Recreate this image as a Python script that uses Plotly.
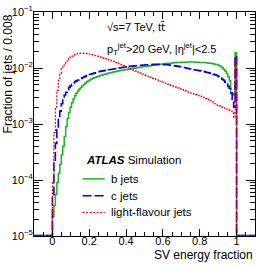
import numpy as np
import plotly.graph_objects as go

BIN_WIDTH = 0.008
X_LOW, X_HIGH = -0.1, 1.1
Y_LOW, Y_HIGH = 1e-5, 1e-1

# bin contents, bins of width 0.008 from 0 to 1 (125 bins)
b_jets = [
    2.2e-5, 3.5e-5, 5.5e-5, 9e-5, 1.3e-4, 1.9e-4, 2.8e-4, 4.0e-4, 6.0e-4, 9.0e-4,
    1.25e-3, 1.6e-3, 2.0e-3, 2.4e-3, 2.8e-3, 3.2e-3, 3.55e-3, 3.9e-3, 4.2e-3, 4.5e-3,
    4.8e-3, 5.1e-3, 5.35e-3, 5.6e-3, 5.85e-3, 6.1e-3, 6.3e-3, 6.5e-3, 6.7e-3, 6.85e-3,
    7.0e-3, 7.15e-3, 7.3e-3, 7.45e-3, 7.6e-3, 7.7e-3, 7.85e-3, 8.0e-3, 8.1e-3, 8.2e-3,
    8.35e-3, 8.45e-3, 8.55e-3, 8.7e-3, 8.8e-3, 8.9e-3, 9.0e-3, 9.1e-3, 9.2e-3, 9.3e-3,
    9.4e-3, 9.5e-3, 9.6e-3, 9.7e-3, 9.8e-3, 9.9e-3, 1.0e-2, 1.01e-2, 1.02e-2, 1.03e-2,
    1.04e-2, 1.05e-2, 1.06e-2, 1.07e-2, 1.08e-2, 1.09e-2, 1.10e-2, 1.11e-2, 1.12e-2, 1.13e-2,
    1.14e-2, 1.15e-2, 1.16e-2, 1.17e-2, 1.18e-2, 1.18e-2, 1.19e-2, 1.20e-2, 1.21e-2, 1.22e-2,
    1.22e-2, 1.23e-2, 1.24e-2, 1.24e-2, 1.25e-2, 1.25e-2, 1.26e-2, 1.26e-2, 1.27e-2, 1.27e-2,
    1.27e-2, 1.28e-2, 1.28e-2, 1.28e-2, 1.28e-2, 1.28e-2, 1.28e-2, 1.27e-2, 1.27e-2, 1.27e-2,
    1.26e-2, 1.26e-2, 1.25e-2, 1.25e-2, 1.24e-2, 1.23e-2, 1.22e-2, 1.21e-2, 1.20e-2, 1.19e-2,
    1.17e-2, 1.16e-2, 1.13e-2, 1.10e-2, 1.06e-2, 1.01e-2, 9.5e-3, 8.8e-3, 8.0e-3, 7.0e-3,
    5.9e-3, 3.6e-3, 3.5e-3, 3.3e-3, 1.9e-2,
]

c_jets = [
    5e-5, 2e-4, 4.5e-4, 8e-4, 1.2e-3, 1.7e-3, 2.3e-3, 2.8e-3, 3.3e-3, 3.7e-3,
    4.1e-3, 4.5e-3, 4.8e-3, 5.1e-3, 5.4e-3, 5.7e-3, 5.9e-3, 6.1e-3, 6.3e-3, 6.5e-3,
    6.7e-3, 6.9e-3, 7.1e-3, 7.3e-3, 7.5e-3, 7.65e-3, 7.8e-3, 7.95e-3, 8.1e-3, 8.25e-3,
    8.4e-3, 8.55e-3, 8.7e-3, 8.8e-3, 8.9e-3, 9.0e-3, 9.1e-3, 9.2e-3, 9.3e-3, 9.4e-3,
    9.5e-3, 9.6e-3, 9.7e-3, 9.8e-3, 9.9e-3, 1.0e-2, 1.01e-2, 1.02e-2, 1.03e-2, 1.04e-2,
    1.05e-2, 1.06e-2, 1.07e-2, 1.07e-2, 1.08e-2, 1.09e-2, 1.10e-2, 1.10e-2, 1.11e-2, 1.12e-2,
    1.12e-2, 1.13e-2, 1.13e-2, 1.14e-2, 1.14e-2, 1.15e-2, 1.15e-2, 1.15e-2, 1.16e-2, 1.16e-2,
    1.16e-2, 1.16e-2, 1.16e-2, 1.16e-2, 1.15e-2, 1.15e-2, 1.15e-2, 1.14e-2, 1.14e-2, 1.13e-2,
    1.12e-2, 1.11e-2, 1.10e-2, 1.09e-2, 1.08e-2, 1.07e-2, 1.06e-2, 1.05e-2, 1.04e-2, 1.02e-2,
    1.01e-2, 9.9e-3, 9.8e-3, 9.6e-3, 9.5e-3, 9.4e-3, 9.3e-3, 9.2e-3, 9.1e-3, 9.0e-3,
    8.9e-3, 8.8e-3, 8.7e-3, 8.6e-3, 8.4e-3, 8.3e-3, 8.2e-3, 8.0e-3, 7.9e-3, 7.7e-3,
    7.6e-3, 7.4e-3, 7.2e-3, 6.9e-3, 6.6e-3, 6.3e-3, 6.0e-3, 5.6e-3, 5.2e-3, 4.7e-3,
    4.3e-3, 3.6e-3, 2.6e-3, 2.0e-3, 1.65e-2,
]

light_jets = [
    9e-5, 7e-4, 2.0e-3, 4.0e-3, 6.0e-3, 8.0e-3, 9.8e-3, 1.1e-2, 1.2e-2, 1.3e-2,
    1.4e-2, 1.48e-2, 1.56e-2, 1.63e-2, 1.69e-2, 1.74e-2, 1.78e-2, 1.81e-2, 1.83e-2, 1.84e-2,
    1.84e-2, 1.83e-2, 1.82e-2, 1.80e-2, 1.78e-2, 1.76e-2, 1.73e-2, 1.71e-2, 1.68e-2, 1.66e-2,
    1.63e-2, 1.61e-2, 1.58e-2, 1.55e-2, 1.52e-2, 1.49e-2, 1.46e-2, 1.43e-2, 1.40e-2, 1.37e-2,
    1.34e-2, 1.31e-2, 1.28e-2, 1.25e-2, 1.22e-2, 1.19e-2, 1.16e-2, 1.13e-2, 1.10e-2, 1.07e-2,
    1.04e-2, 1.01e-2, 9.8e-3, 9.5e-3, 9.2e-3, 9.0e-3, 8.8e-3, 8.6e-3, 8.4e-3, 8.2e-3,
    8.0e-3, 7.8e-3, 7.6e-3, 7.4e-3, 7.2e-3, 7.0e-3, 6.85e-3, 6.7e-3, 6.55e-3, 6.4e-3,
    6.25e-3, 6.1e-3, 5.95e-3, 5.8e-3, 5.65e-3, 5.5e-3, 5.4e-3, 5.3e-3, 5.15e-3, 5.0e-3,
    4.9e-3, 4.8e-3, 4.7e-3, 4.6e-3, 4.5e-3, 4.4e-3, 4.3e-3, 4.2e-3, 4.1e-3, 4.0e-3,
    3.9e-3, 3.8e-3, 3.7e-3, 3.65e-3, 3.55e-3, 3.5e-3, 3.4e-3, 3.35e-3, 3.25e-3, 3.2e-3,
    3.15e-3, 3.1e-3, 3.0e-3, 2.95e-3, 2.85e-3, 2.8e-3, 2.7e-3, 2.6e-3, 2.5e-3, 2.4e-3,
    2.3e-3, 2.2e-3, 2.15e-3, 2.1e-3, 2.05e-3, 2.0e-3, 1.95e-3, 1.9e-3, 1.85e-3, 1.8e-3,
    1.75e-3, 1.7e-3, 1.6e-3, 1.3e-3, 1.5e-2,
]

series_names = ["b jets", "c jets", "light-flavour jets"]
series_colors = ["#1fb41f", "#0000ff", "#ff0000"]
series_dash = ["solid", "9px,3px", "2px,1.5px"]
series_width = [1.5, 1.6, 1.2]

x_tick_vals = [0, 0.2, 0.4, 0.6, 0.8, 1]
x_tick_text = ["0", "0.2", "0.4", "0.6", "0.8", "1"]
y_tick_vals = [1e-5, 1e-4, 1e-3, 1e-2, 1e-1]
y_tick_text = ["10<sup>\u22125</sup>", "10<sup>\u22124</sup>", "10<sup>\u22123</sup>",
               "10<sup>\u22122</sup>", "10<sup>\u22121</sup>"]

FONT = "Liberation Sans, Arial, Helvetica, sans-serif"

fig = go.Figure()

n_bins = len(b_jets)
edges = np.arange(n_bins + 1) * BIN_WIDTH
for vals, color, dash, width in zip([b_jets, c_jets, light_jets], series_colors,
                                    series_dash, series_width):
    xs = np.concatenate([[X_LOW], edges, [X_HIGH]])
    ys = np.concatenate([[0.0], vals, [0.0], [0.0]])
    ys = np.maximum(ys, Y_LOW * 1.02)  # empty bins drawn at the axis floor
    fig.add_trace(go.Scatter(
        x=xs, y=ys, mode="lines", line_shape="hv",
        line=dict(color=color, dash=dash, width=width),
        showlegend=False, hoverinfo="skip",
    ))

axis_common = dict(
    showline=True, linecolor="black", linewidth=1, mirror="ticks",
    ticks="inside", tickcolor="black", showgrid=False, zeroline=False,
    automargin=False,
    tickfont=dict(family=FONT, size=11, color="black"),
)

fig.update_xaxes(
    range=[X_LOW, X_HIGH], tickvals=x_tick_vals, ticktext=x_tick_text,
    ticklen=7, tickwidth=1, ticklabelstandoff=-5,
    minor=dict(ticks="inside", ticklen=4, dtick=0.05, tick0=0, tickcolor="black", showgrid=False),
    **axis_common,
)
fig.update_yaxes(
    type="log", range=[np.log10(Y_LOW), np.log10(Y_HIGH)],
    tickvals=y_tick_vals, ticktext=y_tick_text, ticklen=9, tickwidth=1,
    ticklabelstandoff=-2,
    minor=dict(ticks="inside", ticklen=5, dtick="D1", tickcolor="black", showgrid=False),
    **axis_common,
)

annotations = [
    dict(text="Fraction of jets / 0.008", xref="paper", yref="paper", x=-0.118, y=1.0,
         xanchor="center", yanchor="top", textangle=-90, showarrow=False,
         font=dict(family=FONT, size=12, color="black")),
    dict(text="SV energy fraction", xref="paper", yref="paper", x=1.0, y=-0.085,
         xanchor="right", yanchor="middle", showarrow=False,
         font=dict(family=FONT, size=12, color="black")),
    dict(text="\u221as=7 TeV, t<span style='font-family:DejaVu Sans'>t\u0304</span>",
         xref="paper", yref="paper", x=0.32, y=0.93,
         xanchor="left", yanchor="middle", showarrow=False,
         font=dict(family=FONT, size=11, color="black")),
    dict(text="p<sub>T</sub><sup>jet</sup>&gt;20 GeV, |\u03b7<sup>jet</sup>|&lt;2.5",
         xref="paper", yref="paper", x=0.32, y=0.835,
         xanchor="left", yanchor="middle", showarrow=False,
         font=dict(family=FONT, size=11, color="black")),
    dict(text="<b><i>ATLAS</i></b> Simulation", xref="paper", yref="paper", x=0.228, y=0.34,
         xanchor="left", yanchor="middle", showarrow=False,
         font=dict(family=FONT, size=11.5, color="black")),
]

legend_y = [0.255, 0.18, 0.105]
shapes = []
for name, color, dash, width, ly in zip(series_names, series_colors, series_dash,
                                        series_width, legend_y):
    shapes.append(dict(type="line", xref="paper", yref="paper", x0=0.22, x1=0.32,
                       y0=ly, y1=ly, line=dict(color=color, dash=dash, width=width)))
    annotations.append(dict(text=name, xref="paper", yref="paper", x=0.34, y=ly,
                            xanchor="left", yanchor="middle", showarrow=False,
                            font=dict(family=FONT, size=11.5, color="black")))

fig.update_layout(
    width=266, height=266,
    margin=dict(l=34, r=11, t=12, b=30),
    paper_bgcolor="white", plot_bgcolor="white",
    annotations=annotations, shapes=shapes,
    showlegend=False,
)

fig.write_html("out.html", config={"displayModeBar": False},
               post_script="document.body.style.margin='0';document.body.style.overflow='hidden';")
